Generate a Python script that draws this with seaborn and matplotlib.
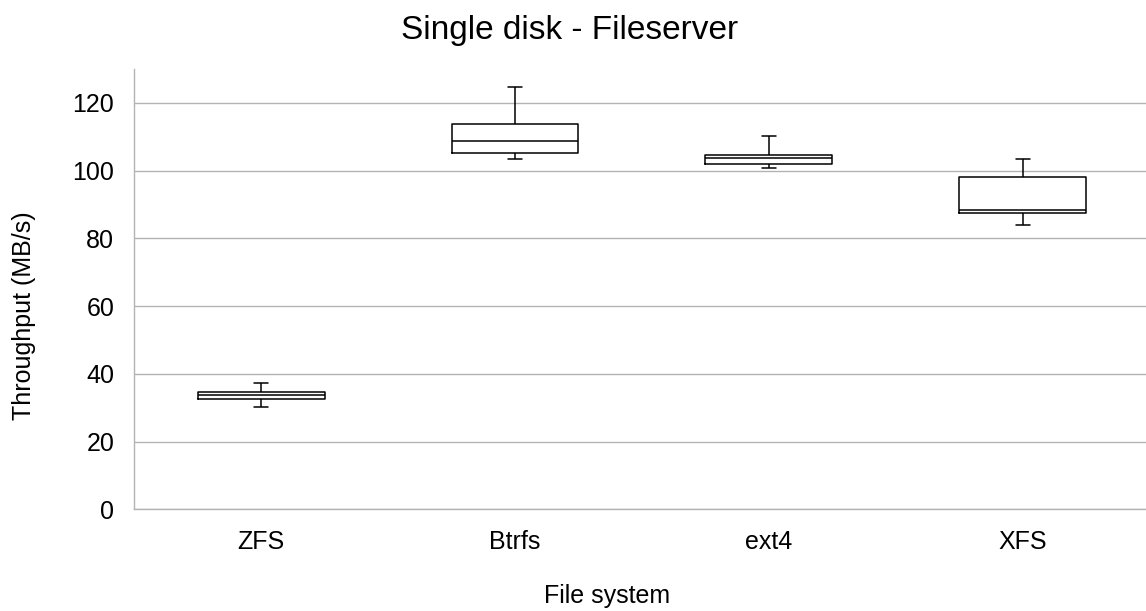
import numpy as np
import pandas as pd
import matplotlib
matplotlib.use('Agg')
import matplotlib.pyplot as plt
import seaborn as sns

# Five-number summaries: min, q1, median, q3, max
file_systems = ['ZFS', 'Btrfs', 'ext4', 'XFS']
zfs = [30.1, 32.5, 33.6, 34.5, 37.2]
btrfs = [103.5, 105.3, 108.7, 113.8, 124.7]
ext4 = [100.8, 102.0, 103.6, 104.5, 110.3]
xfs = [83.8, 87.5, 88.5, 98.1, 103.3]

df = pd.DataFrame({
    'fs': np.repeat(file_systems, 5),
    'throughput': zfs + btrfs + ext4 + xfs,
})

sns.set_theme(style='white')
plt.rcParams['font.family'] = ['Liberation Sans', 'DejaVu Sans']
plt.rcParams['text.color'] = 'black'
plt.rcParams['xtick.color'] = 'black'
plt.rcParams['ytick.color'] = 'black'

fig = plt.figure(figsize=(11.46, 6.11), dpi=100)
ax = fig.add_axes([0.1172, 0.1665, 0.8858, 0.7205])

# whis=(0, 100) so the whiskers reach min and max
sns.boxplot(data=df, x='fs', y='throughput', order=file_systems, ax=ax,
            whis=(0, 100), width=0.5, fill=False, color='black',
            linewidth=1.1, capwidths=0.055)

ax.set_ylim(0, 130)
ax.set_xlim(-0.5, 3.5)
ax.set_yticks(range(0, 121, 20))
ax.yaxis.grid(True, color='#b3b3b3', linewidth=1)
ax.set_axisbelow(True)
ax.set_xticks(np.arange(-0.5, 4, 1), minor=True)
ax.tick_params(axis='x', which='major', length=0, labelsize=18, labelcolor='black', pad=15)
ax.tick_params(axis='x', which='minor', length=7.5, color='#b3b3b3', width=1)
ax.tick_params(axis='y', length=7.5, color='#b3b3b3', width=1, labelsize=18,
               labelcolor='black', pad=7)
for s in ['top', 'right']:
    ax.spines[s].set_visible(False)
for s in ['left', 'bottom']:
    ax.spines[s].set_color('#b3b3b3')
    ax.spines[s].set_linewidth(1)
ax.set_xlabel('')
ax.set_ylabel('')

fig.text(0.497, 0.936, 'Single disk - Fileserver', ha='center', va='baseline', fontsize=24)
fig.text(0.53, 0.013, 'File system', ha='center', va='baseline', fontsize=18)
fig.text(0.021, 0.483, 'Throughput (MB/s)', rotation=90, ha='center', va='center', fontsize=18)

fig.savefig('out.png', dpi=100)
